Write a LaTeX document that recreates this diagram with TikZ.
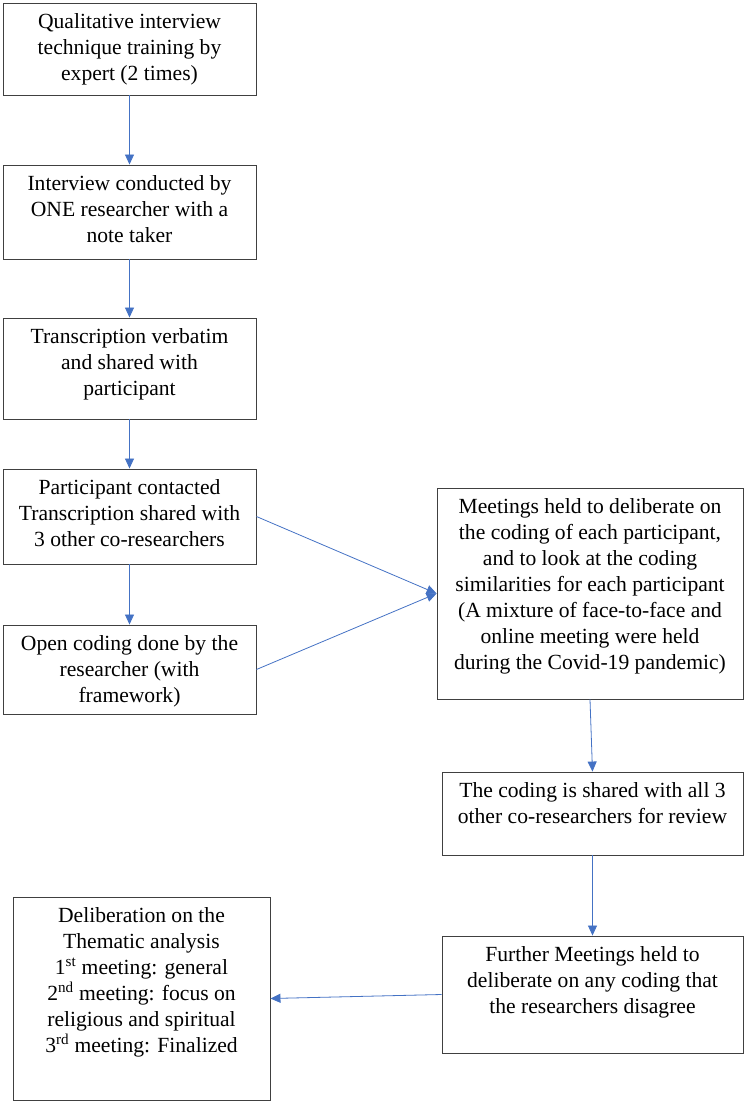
\documentclass[tikz,border=0pt]{standalone}
\usepackage{fontspec}
\setmainfont{Liberation Serif}
\usetikzlibrary{arrows.meta}
\definecolor{boxgray}{HTML}{404040}
\definecolor{arrowblue}{HTML}{4472C4}
\begin{document}
\begin{tikzpicture}[x=1pt,y=-1pt,
  stepbox/.style={draw=boxgray,line width=0.9pt,inner sep=0pt,rectangle},
  steptext/.style={anchor=north,align=center,inner sep=0pt,font=\fontsize{21.6}{26}\selectfont,yshift=-10.5pt},
  flow/.style={draw=arrowblue,line width=0.8pt,-{Triangle[width=9pt,length=10pt]}}]
\useasboundingbox (0,0) rectangle (750,1103);
% boxes
\node[stepbox,minimum width=253pt,minimum height=92pt] (b1) at (129.5,49) {};
\node[stepbox,minimum width=253pt,minimum height=94pt] (b2) at (129.5,212) {};
\node[stepbox,minimum width=253pt,minimum height=101pt] (b3) at (129.5,368.5) {};
\node[stepbox,minimum width=253pt,minimum height=95pt] (b4) at (129.5,516.5) {};
\node[stepbox,minimum width=253pt,minimum height=89pt] (b5) at (129.5,669.5) {};
\node[stepbox,minimum width=306pt,minimum height=211pt] (r1) at (590,593.5) {};
\node[stepbox,minimum width=301pt,minimum height=83pt] (r2) at (592.5,813.5) {};
\node[stepbox,minimum width=301pt,minimum height=117pt] (r3) at (592.5,994.5) {};
\node[stepbox,minimum width=257pt,minimum height=203pt] (bl) at (141.5,998.5) {};
% texts
\node[steptext] (t1) at (b1.north) {Qualitative interview\\technique training by\\expert (2 times)};
\node[steptext] (t2) at (b2.north) {Interview conducted by\\ONE researcher with a\\note taker};
\node[steptext] (t3) at (b3.north) {Transcription verbatim\\and shared with\\participant};
\node[steptext] (t4) at (b4.north) {Participant contacted\\Transcription shared with\\3 other co-researchers};
\node[steptext] (t5) at (b5.north) {Open coding done by the\\researcher (with\\framework)};
\node[steptext] (tr1) at (r1.north) {Meetings held to deliberate on\\the coding of each participant,\\and to look at the coding\\similarities for each participant\\(A mixture of face-to-face and\\online meeting were held\\during the Covid-19 pandemic)};
\node[steptext] (tr2) at (r2.north) {The coding is shared with all 3\\other co-researchers for review};
\node[steptext] (tr3) at (r3.north) {Further Meetings held to\\deliberate on any coding that\\the researchers disagree};
\node[steptext] (tbl) at (bl.north) {Deliberation on the\\Thematic analysis\\1\textsuperscript{st} meeting: general\\2\textsuperscript{nd} meeting: focus on\\religious and spiritual\\3\textsuperscript{rd} meeting: Finalized};
% connectors
\draw[flow] (b1.south) -- (b2.north);
\draw[flow] (b2.south) -- (b3.north);
\draw[flow] (b3.south) -- (b4.north);
\draw[flow] (b4.south) -- (b5.north);
\draw[flow] (b4.east) -- (r1.west);
\draw[flow] (b5.east) -- (r1.west);
\draw[flow] (r1.south) -- (r2.north);
\draw[flow] (r2.south) -- (r3.north);
\draw[flow] (r3.west) -- (bl.east);
\end{tikzpicture}
\end{document}
